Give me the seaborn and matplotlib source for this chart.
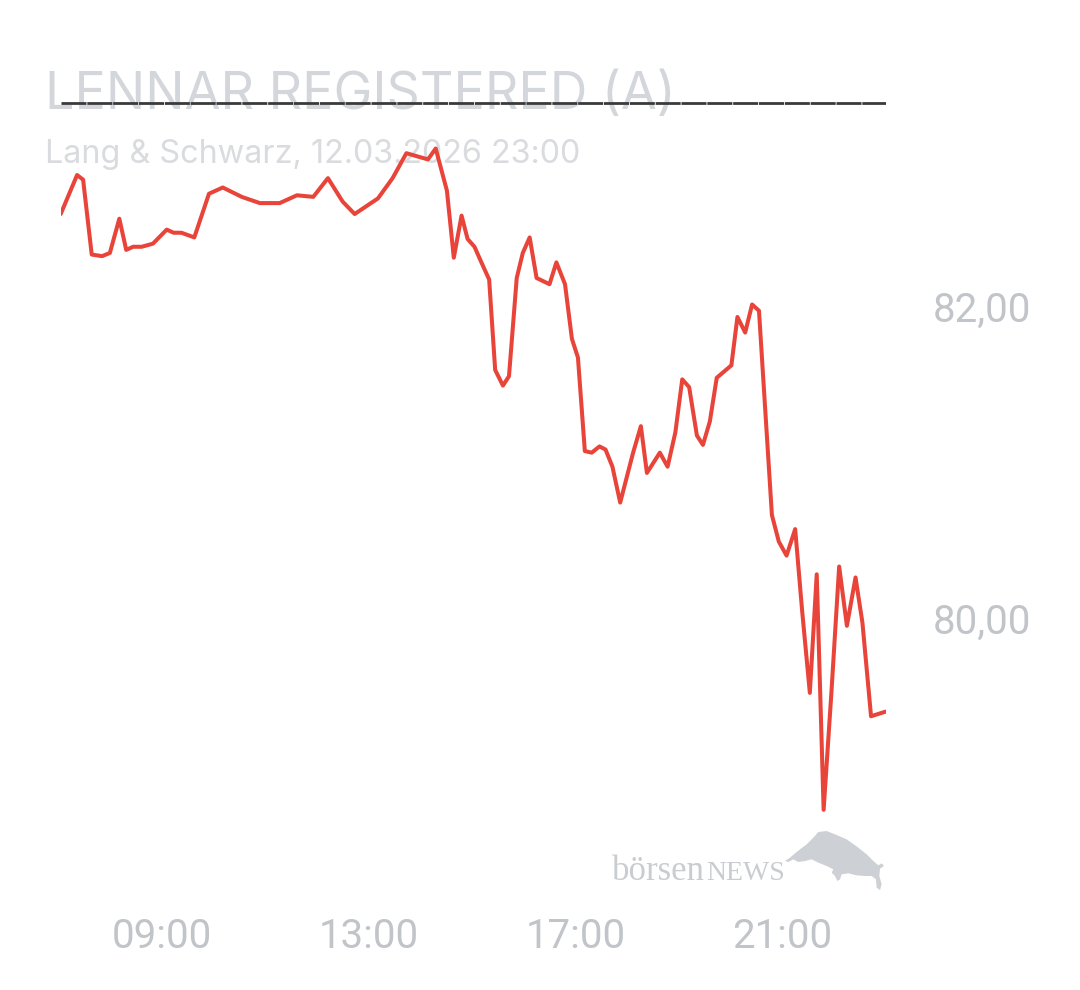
import numpy as np
import pandas as pd
import matplotlib
matplotlib.use("Agg")
import matplotlib.pyplot as plt
import matplotlib.dates as mdates
from matplotlib.ticker import MultipleLocator, FuncFormatter
from matplotlib.patches import Polygon
import seaborn as sns

# intraday quotes, Lang & Schwarz 12.03.2026
times = [
    "07:03", "07:22", "07:29", "07:39", "07:51", "08:00", "08:11", "08:19", "08:27", "08:37",
    "08:50", "09:06", "09:14", "09:23", "09:38", "09:55", "10:11", "10:33", "10:54", "11:17",
    "11:37", "11:56", "12:13", "12:30", "12:44", "13:11", "13:28", "13:44", "14:09", "14:18",
    "14:31", "14:39", "14:48", "14:55", "15:03", "15:11", "15:20", "15:27", "15:36", "15:43",
    "15:52", "15:59", "16:07", "16:15", "16:30", "16:38", "16:48", "16:56", "17:03", "17:11",
    "17:19", "17:28", "17:35", "17:43", "17:52", "18:07", "18:16", "18:23", "18:38", "18:47",
    "18:56", "19:04", "19:12", "19:21", "19:28", "19:36", "19:44", "20:01", "20:08", "20:17",
    "20:25", "20:33", "20:41", "20:48", "20:56", "21:05", "21:15", "21:23", "21:32", "21:40",
    "21:48", "21:57", "22:06", "22:15", "22:25", "22:33", "22:43", "23:00",
]
prices = [
    82.59, 82.84, 82.81, 82.33, 82.32, 82.34, 82.56, 82.36, 82.38, 82.38,
    82.40, 82.49, 82.47, 82.47, 82.44, 82.72, 82.76, 82.70, 82.66, 82.66,
    82.71, 82.70, 82.82, 82.67, 82.59, 82.69, 82.82, 82.98, 82.94, 83.01,
    82.74, 82.31, 82.58, 82.43, 82.38, 82.28, 82.17, 81.59, 81.49, 81.55,
    82.18, 82.34, 82.44, 82.18, 82.14, 82.28, 82.14, 81.79, 81.67, 81.07,
    81.06, 81.10, 81.08, 80.97, 80.74, 81.06, 81.23, 80.93, 81.06, 80.97,
    81.19, 81.53, 81.48, 81.17, 81.11, 81.26, 81.54, 81.62, 81.93, 81.83,
    82.01, 81.97, 81.27, 80.66, 80.49, 80.40, 80.57, 80.05, 79.52, 80.28,
    78.77, 79.52, 80.33, 79.95, 80.26, 79.97, 79.37, 79.40,
]
prev_close = 83.30
x_tick_hours = [9, 13, 17, 21]

title = "LENNAR REGISTERED (A)"
subtitle = "Lang & Schwarz, 12.03.2026 23:00"

df = pd.DataFrame({
    "time": pd.to_datetime(["2026-03-12 " + t for t in times]),
    "price": prices,
})

sns.set_theme(style="white")
plt.rcParams["font.family"] = ["Roboto", "DejaVu Sans"]

fig = plt.figure(figsize=(10.8, 9.9), dpi=100)
ax = fig.add_axes([60.7 / 1080, 90 / 990, 825 / 1080, 800 / 990])

sns.lineplot(data=df, x="time", y="price", ax=ax, color="#e8443a",
             linewidth=2.9, zorder=3)
ax.axhline(prev_close, color="#3a3a3a", linewidth=2.0, linestyle=(0, (9, 0.3)), zorder=2)

ax.set_xlim(df["time"].min(), df["time"].max())
ax.set_ylim(78.192, 83.321)

ax.xaxis.set_major_locator(mdates.HourLocator(byhour=x_tick_hours))
ax.xaxis.set_major_formatter(mdates.DateFormatter("%H:%M"))
ax.yaxis.set_major_locator(MultipleLocator(2))
ax.yaxis.set_major_formatter(FuncFormatter(lambda v, p: f"{v:.2f}".replace(".", ",")))
ax.yaxis.tick_right()
ax.tick_params(axis="y", length=0, pad=34, labelsize=29, labelcolor="#c1c4c9")
ax.tick_params(axis="x", length=0, pad=12, labelsize=29, labelcolor="#c1c4c9")
ax.set_xlabel("")
ax.set_ylabel("")
for s in ax.spines.values():
    s.set_visible(False)

# heading sits behind the reference line
ax.text(45 / 1080, 1 - 95 / 990, title, transform=fig.transFigure, fontsize=37.5,
        family=["Inter", "DejaVu Sans"], color="#d3d6da", va="center", ha="left",
        zorder=1, clip_on=False)
ax.text(45 / 1080, 1 - 155 / 990, subtitle, transform=fig.transFigure, fontsize=23.3,
        family=["Inter", "DejaVu Sans"], color="#d9dbdf", va="center", ha="left",
        zorder=1, clip_on=False)

# börsenNEWS watermark
fig.text(612 / 1080, 1 - 880 / 990, "börsen", fontsize=25, family="Liberation Serif",
         color="#c9ccd0", va="baseline", ha="left")
fig.text(706 / 1080, 1 - 880 / 990, "NEWS", fontsize=20, family="Liberation Serif",
         color="#c9ccd0", va="baseline", ha="left")
bull_outline = [(15, 105), (30, 95), (45, 82), (60, 70), (80, 55), (100, 35), (115, 18),
                (140, 15), (165, 25), (200, 40), (235, 65), (260, 85), (280, 105),
                (295, 118), (305, 112), (312, 120), (300, 128), (298, 150), (305, 175),
                (300, 192), (290, 185), (288, 160), (275, 150), (255, 150), (230, 148),
                (205, 142), (185, 145), (180, 160), (172, 165), (165, 150), (155, 140),
                (160, 130), (140, 120), (115, 110), (95, 100), (75, 105), (55, 108),
                (40, 100), (25, 108)]
bull = Polygon([((780 + zx / 3) / 1080, 1 - (826 + zy / 3) / 990) for zx, zy in bull_outline],
               closed=True, transform=fig.transFigure, facecolor="#cdd0d4", edgecolor="none")
fig.patches.append(bull)

fig.savefig("out.png", dpi=100)
